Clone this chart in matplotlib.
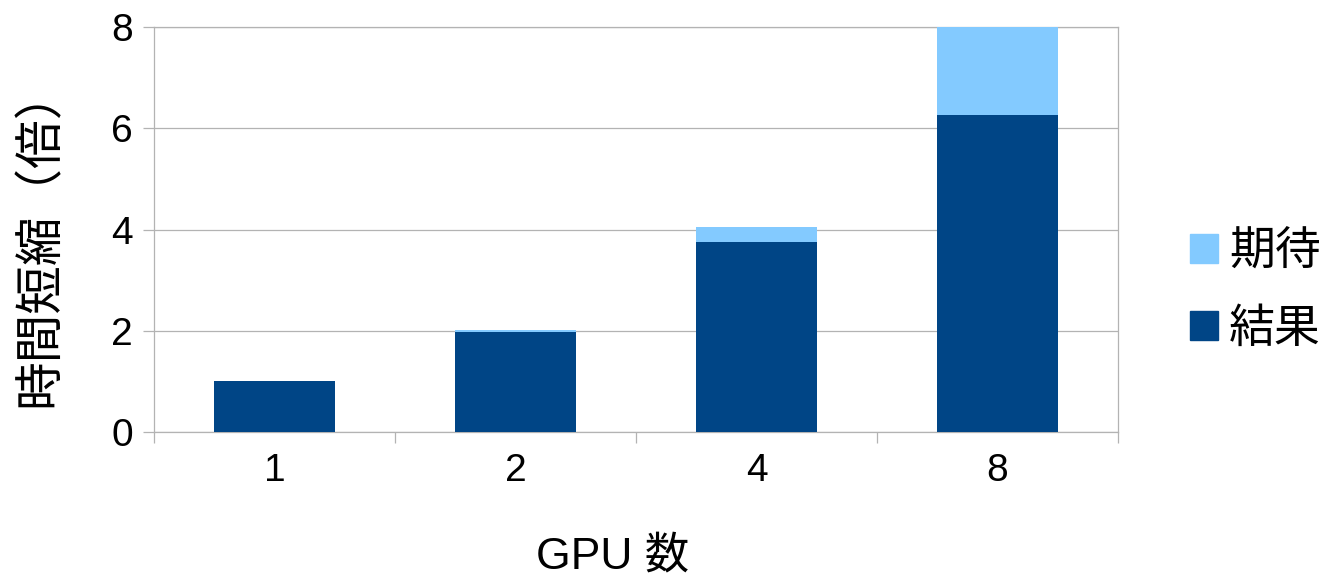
import numpy as np
import matplotlib
matplotlib.use("Agg")
import matplotlib.pyplot as plt
from matplotlib.patches import Patch

plt.rcParams['font.family'] = ['Liberation Sans', 'Noto Sans CJK JP', 'DejaVu Sans']

gpus = ["1", "2", "4", "8"]
result = [1.0, 1.97, 3.76, 6.26]      # 結果
expected_gap = [0.0, 0.05, 0.28, 1.75]  # 期待 (stacked on top)

dark = "#004586"
light = "#83caff"
grey = "#b3b3b3"

W, H = 1327, 579
fig = plt.figure(figsize=(W / 100, H / 100), dpi=100)
ax = fig.add_axes([154 / W, 1 - 432 / H, (1118 - 154) / W, (432 - 27) / H])

x = np.arange(len(gpus))
ax.bar(x, result, width=0.5, color=dark, zorder=3)
ax.bar(x, expected_gap, width=0.5, bottom=result, color=light, zorder=3)

ax.set_xlim(-0.5, len(gpus) - 0.5)
ax.set_ylim(0, 8)
ax.set_yticks([0, 2, 4, 6, 8])
ax.set_xticks(x)
ax.set_xticklabels(gpus)
ax.set_xticks(np.arange(len(gpus) + 1) - 0.5, minor=True)

ax.grid(axis="y", color=grey, linewidth=0.9, zorder=0)
for s in ax.spines.values():
    s.set_color(grey)
    s.set_linewidth(0.9)

ax.tick_params(axis="y", labelsize=28, length=8, color=grey, width=0.9, pad=7)
ax.tick_params(axis="x", which="major", labelsize=28, length=0, pad=15)
ax.tick_params(axis="x", which="minor", length=8, color=grey, width=0.9)

fig.text(613 / W, 1 - 557 / H, "GPU 数", fontsize=32, ha="center", va="center")
fig.text(40 / W, 1 - 237 / H, "時間短縮（倍）", fontsize=35, rotation=90,
         ha="center", va="center")

handles = [Patch(color=light, label="期待"), Patch(color=dark, label="結果")]
fig.legend(handles=handles, loc="center left", bbox_to_anchor=(1190 / W, 1 - 291 / H),
           frameon=False, fontsize=33, handlelength=0.6, handleheight=0.6,
           handletextpad=0.25, labelspacing=0.72, borderpad=0, borderaxespad=0)

fig.savefig("out.png", dpi=100)
